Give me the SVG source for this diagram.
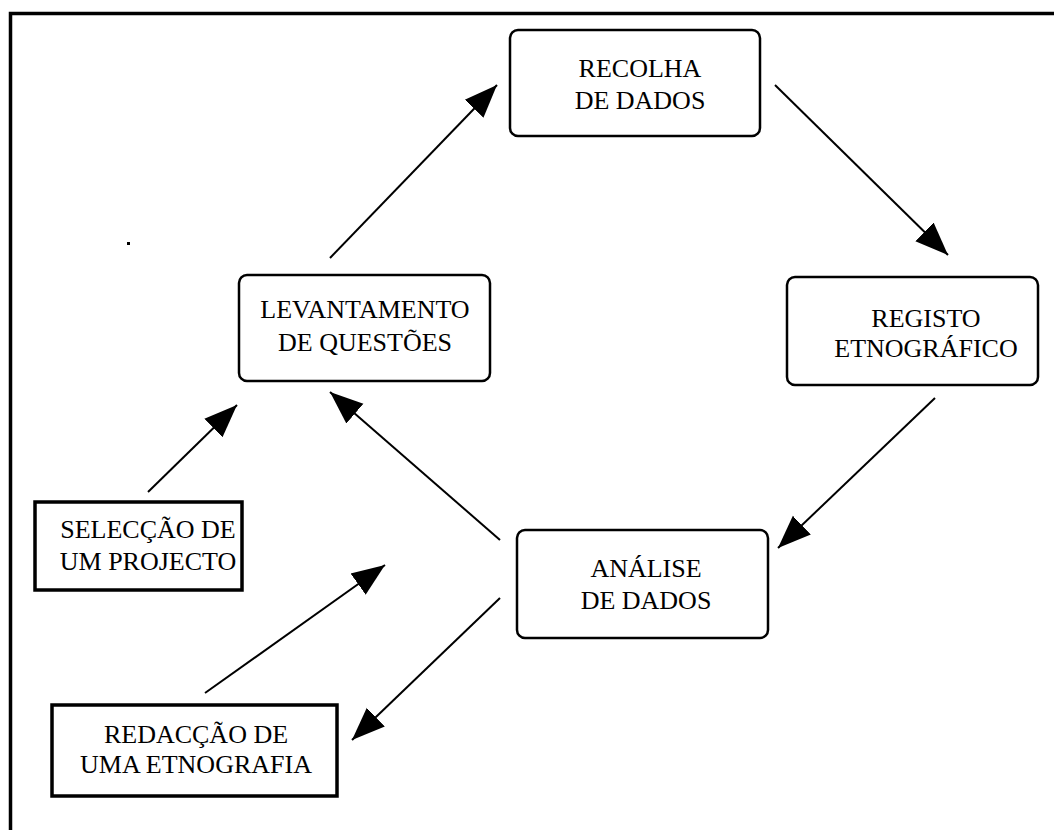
<svg xmlns="http://www.w3.org/2000/svg" width="1054" height="830" viewBox="0 0 1054 830">
<style>
.box{fill:#fff;stroke:#000;stroke-width:2.5}
.sq{fill:#fff;stroke:#000;stroke-width:3.5}
.t{font-family:"Liberation Serif","Times New Roman",serif;font-size:26px;fill:#000;text-anchor:middle}
.c{stroke:#000;stroke-width:2;fill:none;marker-end:url(#ah)}
</style>
<defs>
<marker id="ah" markerUnits="userSpaceOnUse" markerWidth="34" markerHeight="28" refX="33" refY="14" orient="auto">
<path d="M0,1 L33,14 L0,27 z" fill="#000"/>
</marker>
</defs>
<rect width="1054" height="830" fill="#fff"/>
<g id="frame">
<path d="M10.5,830 V13.5 H1054" fill="none" stroke="#000" stroke-width="3.5"/>
<rect x="127" y="242" width="3" height="3" fill="#000"/>
</g>
<g id="connectors">
<line class="c" x1="330" y1="258" x2="497" y2="85"/>
<line class="c" x1="775" y1="85" x2="948" y2="255"/>
<line class="c" x1="935" y1="398" x2="778" y2="548"/>
<line class="c" x1="500" y1="540" x2="330" y2="392"/>
<line class="c" x1="148" y1="492" x2="237" y2="405"/>
<line class="c" x1="205" y1="693" x2="385" y2="565"/>
<line class="c" x1="500" y1="598" x2="352" y2="740"/>
</g>
<g id="recolha">
<rect class="box" x="510" y="30" width="250" height="106" rx="8"/>
<text class="t" x="640" y="77">RECOLHA</text>
<text class="t" x="640" y="109">DE DADOS</text>
</g>
<g id="levantamento">
<rect class="box" x="239" y="275" width="251" height="106" rx="8"/>
<text class="t" x="365" y="318">LEVANTAMENTO</text>
<text class="t" x="365" y="351">DE QUESTÕES</text>
</g>
<g id="registo">
<rect class="box" x="787" y="277" width="251" height="108" rx="8"/>
<text class="t" x="926" y="327">REGISTO</text>
<text class="t" x="926" y="357">ETNOGRÁFICO</text>
</g>
<g id="analise">
<rect class="box" x="517" y="530" width="251" height="108" rx="8"/>
<text class="t" x="646" y="577">ANÁLISE</text>
<text class="t" x="646" y="609">DE DADOS</text>
</g>
<g id="seleccao">
<rect class="sq" x="35" y="502" width="207" height="88"/>
<text class="t" x="148" y="538">SELECÇÃO DE</text>
<text class="t" x="148" y="570">UM PROJECTO</text>
</g>
<g id="redaccao">
<rect class="sq" x="52" y="705" width="285" height="91"/>
<text class="t" x="196" y="743">REDACÇÃO DE</text>
<text class="t" x="196" y="773">UMA ETNOGRAFIA</text>
</g>
</svg>
